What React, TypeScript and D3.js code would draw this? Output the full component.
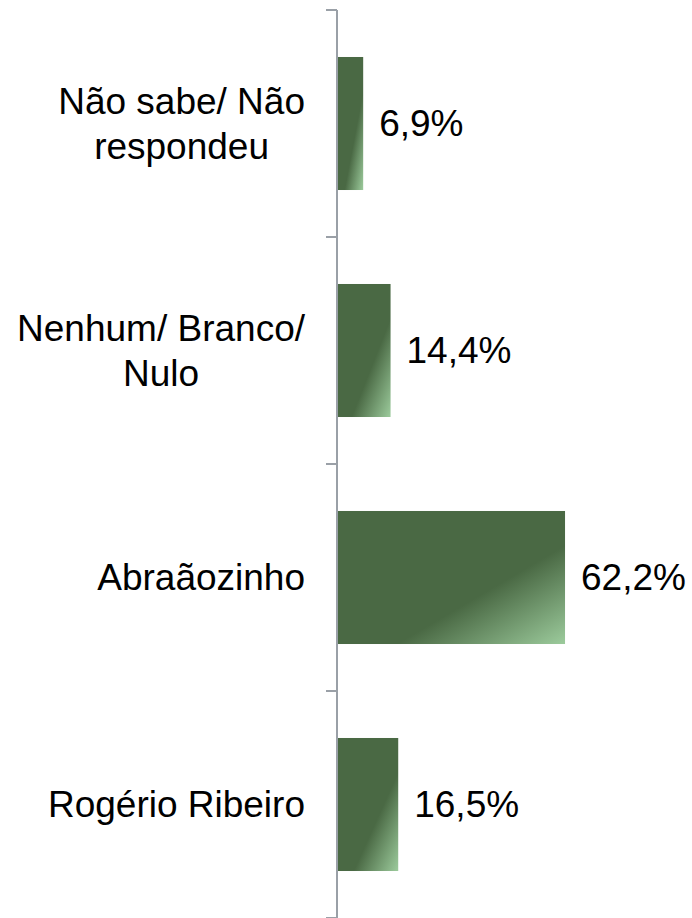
import { useEffect, useRef } from 'react';
import * as d3 from 'd3';

const categories = ['nao_sabe', 'nenhum', 'abraaozinho', 'rogerio'];
const labelLines = [
    ['Não sabe/ Não', 'respondeu'],
    ['Nenhum/ Branco/', 'Nulo'],
    ['Abraãozinho'],
    ['Rogério Ribeiro'],
];
const values = [6.9, 14.4, 62.2, 16.5];
const valueLabels = ['6,9%', '14,4%', '62,2%', '16,5%'];

const width = 692;
const height = 918;
const axisX = 337;
const fontFamily = '"Liberation Sans", Arial, sans-serif';
const fontSize = 37;
const lineHeight = 44.5;

function BarChart() {
    const ref = useRef<SVGSVGElement>(null);

    useEffect(() => {
        const svg = d3.select(ref.current);
        svg.selectAll('*').remove();

        const y = d3.scaleBand()
            .domain(categories)
            .range([10, 918])
            .paddingInner(0.414)
            .paddingOuter(0.207);

        const x = d3.scaleLinear()
            .domain([0, 70])
            .range([axisX + 1, axisX + 1 + 70 * 3.65]);

        const defs = svg.append('defs');
        const grad = defs.append('linearGradient')
            .attr('id', 'barGrad')
            .attr('x1', 0).attr('y1', 0)
            .attr('x2', 1).attr('y2', 1);
        grad.append('stop').attr('offset', '0').attr('stop-color', '#4a6944');
        grad.append('stop').attr('offset', '0.63').attr('stop-color', '#4a6944');
        grad.append('stop').attr('offset', '1').attr('stop-color', '#9ccb9c');

        // bars
        svg.append('g')
            .selectAll('rect')
            .data(values)
            .join('rect')
            .attr('x', x(0))
            .attr('y', (d, i) => y(categories[i]))
            .attr('width', d => x(d) - x(0))
            .attr('height', y.bandwidth())
            .attr('fill', 'url(#barGrad)');

        // axis line + ticks at band boundaries
        const axis = svg.append('g').attr('stroke', '#9aa0a7').attr('stroke-width', 2);
        axis.append('line')
            .attr('x1', axisX).attr('x2', axisX)
            .attr('y1', y.range()[0]).attr('y2', y.range()[1]);
        const bounds = d3.range(categories.length + 1).map(i => y.range()[0] + i * y.step());
        axis.selectAll('line.tick')
            .data(bounds)
            .join('line')
            .attr('class', 'tick')
            .attr('x1', axisX - 11).attr('x2', axisX)
            .attr('y1', d => d).attr('y2', d => d);

        // category labels: block right-aligned, lines centered
        const labels = svg.append('g')
            .attr('font-family', fontFamily)
            .attr('font-size', fontSize)
            .attr('fill', '#000');
        labelLines.forEach((lines, i) => {
            const cy = y(categories[i])! + y.bandwidth() / 2;
            const t = labels.append('text').attr('text-anchor', 'middle');
            lines.forEach((line, j) => {
                t.append('tspan')
                    .attr('y', cy + (j - (lines.length - 1) / 2) * lineHeight)
                    .attr('dy', '0.35em')
                    .text(line);
            });
            let maxW = 0;
            t.selectAll<SVGTSpanElement, unknown>('tspan').each(function () {
                maxW = Math.max(maxW, this.getComputedTextLength());
            });
            t.selectAll('tspan').attr('x', axisX - 32 - maxW / 2);
        });

        // value labels
        svg.append('g')
            .attr('font-family', fontFamily)
            .attr('font-size', fontSize)
            .selectAll('text')
            .data(values)
            .join('text')
            .attr('x', d => x(d) + 16)
            .attr('y', (d, i) => y(categories[i])! + y.bandwidth() / 2)
            .attr('dy', '0.35em')
            .text((d, i) => valueLabels[i]);
    }, []);

    return <svg ref={ref} width={width} height={height}></svg>;
}

export default function App() {
    return (
        <div style={{ position: 'absolute', left: 0, top: 0, background: '#fff' }}>
            <BarChart />
        </div>
    );
}
